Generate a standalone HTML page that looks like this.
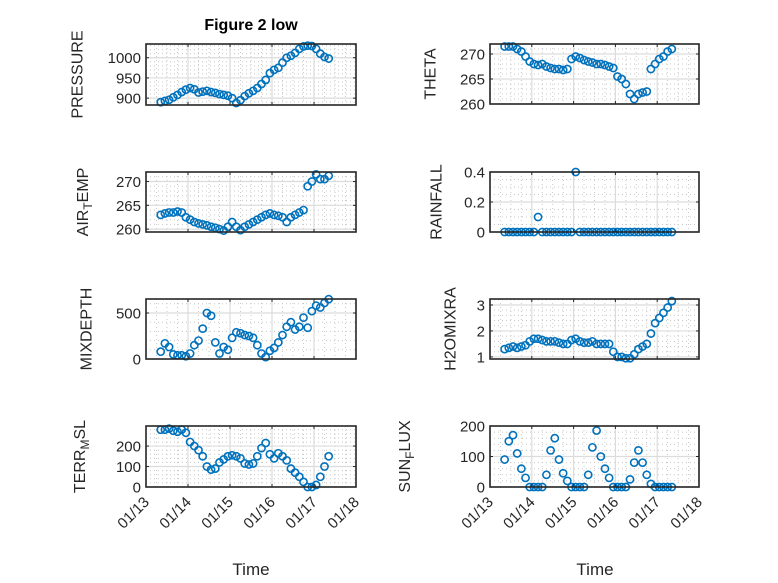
<!DOCTYPE html>
<html><head><meta charset="utf-8">
<style>
html,body{margin:0;padding:0;background:#fff;}
svg{display:block;font-family:"Liberation Sans",sans-serif;}
</style></head>
<body>
<svg id="fig" width="778" height="583" viewBox="0 0 778 583" xmlns="http://www.w3.org/2000/svg">
<rect width="778" height="583" fill="#fff"/>
<text x="251" y="30" text-anchor="middle" font-size="16" font-weight="bold" fill="#000">Figure 2 low</text>
<text x="251" y="575" text-anchor="middle" font-size="17" fill="#262626">Time</text>
<text x="595" y="575" text-anchor="middle" font-size="17" fill="#262626">Time</text>
</svg>
<script>
const times = [13.35,13.45,13.55,13.65,13.75,13.85,13.95,14.05,14.15,14.25,
14.35,14.45,14.55,14.65,14.75,14.85,14.95,15.05,15.15,15.25,
15.35,15.45,15.55,15.65,15.75,15.85,15.95,16.05,16.15,16.25,
16.35,16.45,16.55,16.65,16.75,16.85,16.95,17.05,17.15,17.25,17.35];
const xTickValues = [13,14,15,16,17,18];
const xTickLabels = ["01/13","01/14","01/15","01/16","01/17","01/18"];
const pressure = [890,893,896,902,908,915,921,925,922,914, 916,918,915,913,910,908,906,900,888,895, 905,912,918,925,935,945,962,970,975,988, 1000,1005,1012,1022,1028,1030,1029,1022,1010,1002, 998];
const theta = [271.5,271.5,271.5,271,270.5,269.5,268.5,268,267.8,268, 267.5,267.2,267,267,266.8,267,269,269.5,269.2,268.8, 268.5,268.3,268,268,267.8,267.5,267.2,265.5,265,264, 262,261,262,262.3,262.5,267,268,269,269.5,270.5, 271];
const airTemp = [263,263.3,263.5,263.5,263.7,263.5,262.5,262,261.5,261.2, 261,260.8,260.5,260.3,260,259.7,260.5,261.5,260.5,259.8, 260.5,261,261.5,262,262.5,263,263.3,263,262.8,262.5, 261.5,262.5,263,263.5,264,269,270,271.5,270.5,270.5, 271.2];
const rainfall = [0,0,0,0,0,0,0,0,0.1,0, 0,0,0,0,0,0,0,0.4,0,0, 0,0,0,0,0,0,0,0,0,0, 0,0,0,0,0,0,0,0,0,0, 0];
const mixDepth = [80,170,130,50,40,40,30,60,150,200, 330,500,470,180,60,130,100,230,290,280, 260,250,230,150,60,20,90,120,180,260, 350,400,320,350,450,340,520,580,560,610, 650];
const h2oMixRatio = [1.3,1.35,1.4,1.35,1.4,1.45,1.6,1.7,1.7,1.65, 1.6,1.6,1.6,1.55,1.5,1.5,1.65,1.7,1.6,1.55, 1.55,1.6,1.5,1.5,1.5,1.5,1.2,1.0,1.0,0.95, 0.95,1.1,1.3,1.4,1.5,1.9,2.3,2.5,2.7,2.9, 3.15];
const terrMsl = [280,280,285,275,270,280,265,220,200,180, 150,100,85,90,120,135,150,155,150,140, 115,110,115,150,190,215,160,140,165,150, 130,90,70,50,25,0,0,10,50,100, 150];
const sunFlux = [90,150,170,110,60,30,0,0,0,0, 40,120,160,90,45,20,0,0,0,0, 40,130,185,100,60,30,0,0,0,0, 25,80,120,80,40,10,0,0,0,0, 0];
const pressureTicks = [900,950,1000];
const thetaTicks = [260,265,270];
const airTempTicks = [260,265,270];
const rainTicks = [0,0.2,0.4];
const mixTicks = [0,500];
const h2oTicks = [1,2,3];
const terrTicks = [0,100,200];
const sunTicks = [0,100,200];

const NS="http://www.w3.org/2000/svg";
const svg=document.getElementById('fig');
function mk(tag,attrs,parent){const e=document.createElementNS(NS,tag);for(const k in attrs)e.setAttribute(k,attrs[k]);(parent||svg).appendChild(e);return e;}

const panels=[
 {name:'pressure',vals:pressure,ticks:pressureTicks,min:883,max:1034,x0:146,x1:356,y0:44,y1:105,label:['PRESSURE'],lx:78,minorY:5},
 {name:'theta',vals:theta,ticks:thetaTicks,min:260,max:272,x0:490,x1:699,y0:44,y1:104,label:['THETA'],lx:431,minorY:5},
 {name:'air-temp',vals:airTemp,ticks:airTempTicks,min:259.4,max:272,x0:146,x1:356,y0:172,y1:232,label:['AIR','T','EMP'],lx:83,minorY:5},
 {name:'rainfall',vals:rainfall,ticks:rainTicks,min:0,max:0.4,x0:490,x1:699,y0:172,y1:232,label:['RAINFALL'],lx:437,minorY:4},
 {name:'mixdepth',vals:mixDepth,ticks:mixTicks,min:0,max:652,x0:146,x1:356,y0:299,y1:359,label:['MIXDEPTH'],lx:87,minorY:5},
 {name:'h2o-mix-ratio',vals:h2oMixRatio,ticks:h2oTicks,min:0.92,max:3.23,x0:490,x1:699,y0:299,y1:359,label:['H2OMIXRA'],lx:451,minorY:5},
 {name:'terr-msl',vals:terrMsl,ticks:terrTicks,min:0,max:298,x0:146,x1:356,y0:426,y1:487,label:['TERR','M','SL'],lx:80,minorY:5},
 {name:'sun-flux',vals:sunFlux,ticks:sunTicks,min:0,max:200,x0:490,x1:699,y0:426,y1:487,label:['SUN','F','LUX'],lx:405,minorY:5,}
];
const xMin=13,xMax=18;
panels.forEach((p,idx)=>{
 const g=mk('g',{});
 
 
 const sx=v=>p.x0+(v-xMin)/(xMax-xMin)*(p.x1-p.x0);
 const sy=v=>p.y1-(v-p.min)/(p.max-p.min)*(p.y1-p.y0);
 // minor x grid
 for(let d=xMin;d<xMax;d+=1){for(let k=1;k<4;k++){const x=sx(d+k*0.25);
  const l=mk('line',{x1:x,x2:x,y1:p.y0,y2:p.y1,stroke:'#c8c8c8','stroke-width':1,'stroke-dasharray':'1,3'},g);
  
  }}
 // minor y grid
 const st=p.ticks[1]-p.ticks[0];const ms=st/p.minorY;
 for(let v=p.ticks[0]-st;v<=p.max+1e-9;v+=ms){if(v<p.min-1e-9)continue;const y=sy(v);
  const l=mk('line',{x1:p.x0,x2:p.x1,y1:y,y2:y,stroke:'#c8c8c8','stroke-width':1,'stroke-dasharray':'1,3'},g);
  
  }
 // major grid
 xTickValues.forEach(v=>{const x=sx(v);
  const l=mk('line',{x1:x,x2:x,y1:p.y0,y2:p.y1,stroke:'#dcdcdc','stroke-width':1.2},g);
  
  });
 p.ticks.forEach(v=>{const y=sy(v);
  const l=mk('line',{x1:p.x0,x2:p.x1,y1:y,y2:y,stroke:'#dcdcdc','stroke-width':1.2},g);
  
  });
 // markers
 p.vals.forEach((v,i)=>{
  const c=mk('circle',{cx:sx(times[i]),cy:sy(v),r:3.6,fill:'none',stroke:'#0072BD','stroke-width':1.6},g);
  
  
 });
 // ticks
 xTickValues.forEach(v=>{const x=sx(v);
  mk('line',{x1:x,x2:x,y1:p.y1,y2:p.y1-3,stroke:'#262626','stroke-width':1},g);
  mk('line',{x1:x,x2:x,y1:p.y0,y2:p.y0+3,stroke:'#262626','stroke-width':1},g);});
 p.ticks.forEach(v=>{const y=sy(v);
  mk('line',{x1:p.x0,x2:p.x0+3,y1:y,y2:y,stroke:'#262626','stroke-width':1},g);
  mk('line',{x1:p.x1,x2:p.x1-3,y1:y,y2:y,stroke:'#262626','stroke-width':1},g);
  const t=mk('text',{x:p.x0-5,y:y+5.5,'text-anchor':'end','font-size':15,fill:'#262626'},g);
  t.textContent=String(v);
  
  });
 // box
 const b=mk('rect',{x:p.x0,y:p.y0,width:p.x1-p.x0,height:p.y1-p.y0,fill:'none',stroke:'#262626','stroke-width':1.6},g);
 
 
 // y label
 const cy=(p.y0+p.y1)/2;
 const yl=mk('text',{x:p.lx,y:cy,'text-anchor':'middle','dominant-baseline':'central','font-size':16,fill:'#262626',transform:`rotate(-90 ${p.lx} ${cy})`},g);
 
 
 if(p.label.length===1){yl.textContent=p.label[0];}
 else{const a=mk('tspan',{},yl);a.textContent=p.label[0];
  const s=mk('tspan',{dy:5,'font-size':12},yl);s.textContent=p.label[1];
  const c=mk('tspan',{dy:-5},yl);c.textContent=p.label[2];}
 // x tick labels bottom row
 if(idx>=6){xTickValues.forEach((v,i)=>{const x=sx(v)+4,y=p.y1+16;
  const t=mk('text',{x:x,y:y,'text-anchor':'end','font-size':15,fill:'#262626',transform:`rotate(-45 ${x} ${y})`},g);
  t.textContent=xTickLabels[i];
  
  });}
});
</script>
</body></html>
